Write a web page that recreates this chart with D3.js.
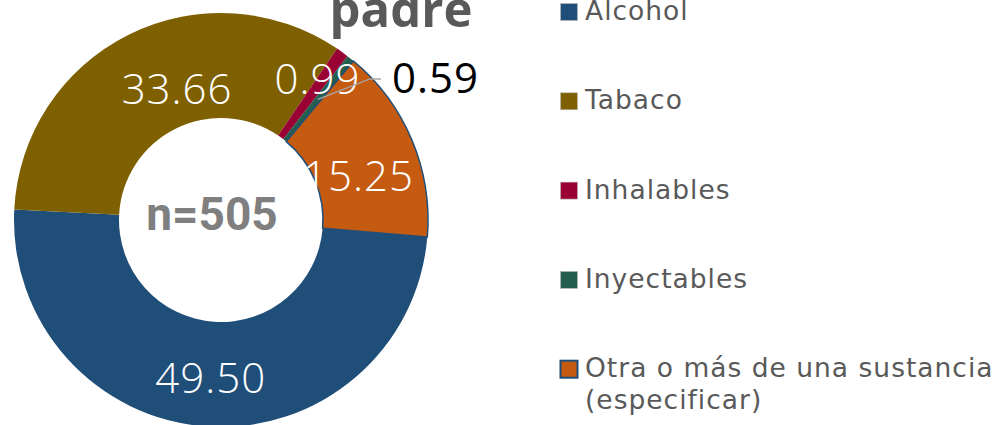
<!DOCTYPE html>
<html>
<head>
<meta charset="utf-8">
<script src="https://cdn.jsdelivr.net/npm/d3@7"></script>
<style>
body { margin: 0; background: #fff; }
svg { display: block; }
</style>
</head>
<body>
<svg></svg>
<script>
var categories = ["Alcohol", "Tabaco", "Inhalables", "Inyectables", "Otra o más de una sustancia (especificar)"];
var legendLines = [["Alcohol"], ["Tabaco"], ["Inhalables"], ["Inyectables"], ["Otra o más de una sustancia", "(especificar)"]];
var values = [49.50, 33.66, 0.99, 0.59, 15.25];
var labels = ["49.50", "33.66", "0.99", "0.59", "15.25"];
var colors = ["#1f4e79", "#7f6000", "#990033", "#235e4f", "#c55a11"];
var title = "padre";
var total = "n=505";

var width = 1007, height = 425;
var cx = 221, cy = 220;
var outerR = 207, innerR = 102;
// where the first slice begins, clockwise from 12 o'clock
var start = 94.7 * Math.PI / 180;
// nudges of the in-slice labels from the arc centroid
var nudge = [[0, 2], [25, 6], [6, -17], [0, 0], [-5, 14]];

var svg = d3.select("svg").attr("width", width).attr("height", height);

var pie = d3.pie().sort(null).value(d => d).startAngle(start).endAngle(start + 2*Math.PI);
var arcs = pie(values);
var arc = d3.arc().innerRadius(innerR).outerRadius(outerR);

var g = svg.append("g").attr("transform", "translate(" + cx + "," + cy + ")");

g.selectAll(".slice")
	.data(arcs)
	.enter().append("path")
	.attr("class", "slice")
	.attr("d", arc)
	.style("fill", (d, i) => colors[i])
	.style("stroke", (d, i) => i == 4 ? "#1f4e79" : "none")
	.style("stroke-width", 1.5);

var font = "'Open Sans', sans-serif";

// labels inside the ring
g.selectAll(".lbl")
	.data(arcs.filter((d, i) => i != 3))
	.enter().append("text")
	.attr("class", "lbl")
	.attr("x", d => arc.centroid(d)[0] + nudge[d.index][0])
	.attr("y", d => arc.centroid(d)[1] + nudge[d.index][1])
	.attr("text-anchor", "middle")
	.attr("dominant-baseline", "central")
	.style("font-family", font)
	.style("font-weight", 300)
	.style("font-size", "42px")
	.style("letter-spacing", "1px")
	.style("fill", "#fff")
	.text(d => labels[d.index]);

// small slice: leader line and outside label
var c = arc.centroid(arcs[3]);
g.append("polyline")
	.attr("points", [[c[0], c[1]], [149, -141], [160, -141]].map(p => p.join(",")).join(" "))
	.style("fill", "none")
	.style("stroke", "#a6a6a6")
	.style("stroke-width", 1.3);
g.append("text")
	.attr("x", 171)
	.attr("y", -127)
	.style("font-family", font)
	.style("font-weight", 400)
	.style("font-size", "42px")
	.style("letter-spacing", "1px")
	.style("fill", "#000")
	.text(labels[3]);

g.append("text")
	.attr("x", -9)
	.attr("y", 10)
	.attr("text-anchor", "middle")
	.style("font-family", "Roboto, sans-serif")
	.style("font-weight", 700)
	.style("font-size", "46px")
	.style("fill", "#7f7f7f")
	.text(total);

svg.append("text")
	.attr("x", 401)
	.attr("y", 27)
	.attr("text-anchor", "middle")
	.style("font-family", font)
	.style("font-weight", 700)
	.style("font-size", "49px")
	.style("fill", "#595959")
	.text(title);

// legend
var legend = svg.selectAll(".leg")
	.data(categories)
	.enter().append("g")
	.attr("class", "leg")
	.attr("transform", (d, i) => "translate(560," + (3 + i*89.3) + ")");

legend.append("rect")
	.attr("x", 0.5).attr("y", 0.5)
	.attr("width", 17).attr("height", 17)
	.style("fill", (d, i) => colors[i])
	.style("stroke", (d, i) => i == 4 ? "#1f4e79" : "#bbb")
	.style("stroke-width", (d, i) => i == 4 ? 2 : 0.6);

legend.append("text")
	.attr("x", 25)
	.attr("y", 17)
	.style("font-family", "'DejaVu Sans', sans-serif")
	.style("font-size", "26.5px")
	.style("letter-spacing", "1px")
	.style("fill", "#595959")
	.selectAll("tspan")
	.data((d, i) => legendLines[i])
	.enter().append("tspan")
	.attr("x", 25)
	.attr("dy", (d, j) => j == 0 ? 0 : 32)
	.text(d => d);
</script>
</body>
</html>
